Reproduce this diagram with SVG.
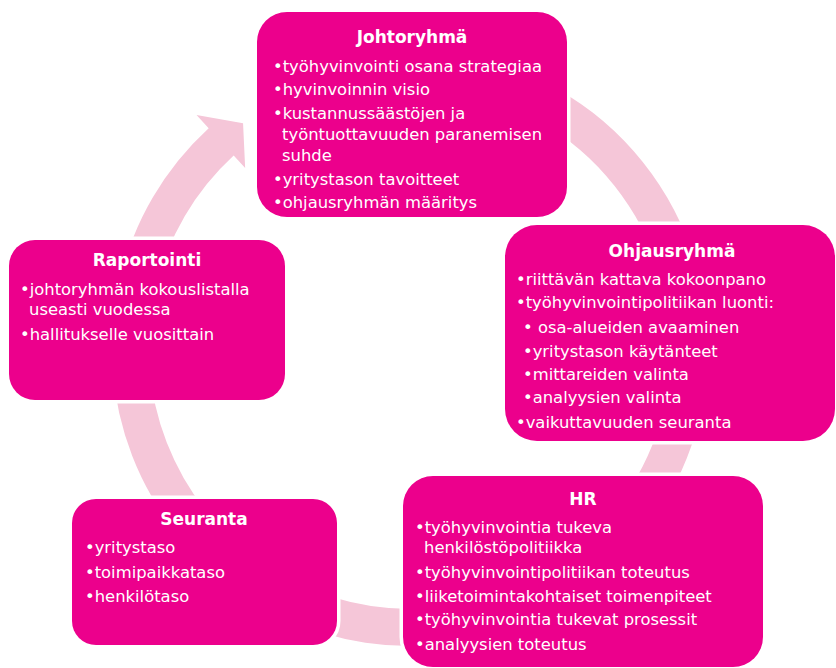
<svg xmlns="http://www.w3.org/2000/svg" width="836" height="668" viewBox="0 0 836 668">
<style>
.box{fill:#EC008C;stroke:#ffffff;stroke-width:7;paint-order:stroke}
.t{font-family:"DejaVu Sans",Verdana,sans-serif;fill:#ffffff;font-weight:bold;font-size:17px;text-anchor:middle}
.b{font-family:"DejaVu Sans",Verdana,sans-serif;fill:#ffffff;font-size:16.4px}
.ring{fill:#F5C6D8}
</style>
<rect width="836" height="668" fill="#ffffff"/>
<g id="connectors">
<path class="ring" d="M435.97,51.14 A298,298 0 0 1 410,646 A298,298 0 0 1 208.67,128.29 L196.51,115.02 L243.06,123.21 L245.16,168.10 L233.67,155.57 A261,261 0 0 0 410,609 A261,261 0 0 0 432.75,87.99 Z"/>
</g>
<g id="johtoryhma">
<rect class="box" x="257" y="12" width="310" height="205" rx="30"/>
<text class="t" x="412" y="43">Johtoryhmä</text>
<text class="b" x="273" y="72">•työhyvinvointi osana strategiaa</text>
<text class="b" x="273" y="95">•hyvinvoinnin visio</text>
<text class="b" x="273" y="119">•kustannussäästöjen ja</text>
<text class="b" x="282" y="140">työntuottavuuden paranemisen</text>
<text class="b" x="282" y="161">suhde</text>
<text class="b" x="273" y="185">•yritystason tavoitteet</text>
<text class="b" x="273" y="208">•ohjausryhmän määritys</text>
</g>
<g id="ohjausryhma">
<rect class="box" x="505" y="225" width="330" height="216" rx="32"/>
<text class="t" x="672" y="257">Ohjausryhmä</text>
<text class="b" x="516" y="285">•riittävän kattava kokoonpano</text>
<text class="b" x="516" y="308">•työhyvinvointipolitiikan luonti:</text>
<text class="b" x="523" y="333">• osa-alueiden avaaminen</text>
<text class="b" x="523" y="357">•yritystason käytänteet</text>
<text class="b" x="523" y="380">•mittareiden valinta</text>
<text class="b" x="523" y="403">•analyysien valinta</text>
<text class="b" x="516" y="428">•vaikuttavuuden seuranta</text>
</g>
<g id="hr">
<rect class="box" x="403" y="476" width="360" height="191" rx="30"/>
<text class="t" x="583" y="505">HR</text>
<text class="b" x="415" y="533">•työhyvinvointia tukeva</text>
<text class="b" x="424" y="553">henkilöstöpolitiikka</text>
<text class="b" x="415" y="578">•työhyvinvointipolitiikan toteutus</text>
<text class="b" x="415" y="602">•liiketoimintakohtaiset toimenpiteet</text>
<text class="b" x="415" y="625">•työhyvinvointia tukevat prosessit</text>
<text class="b" x="415" y="650">•analyysien toteutus</text>
</g>
<g id="seuranta">
<rect class="box" x="72" y="499" width="265" height="146" rx="24"/>
<text class="t" x="204" y="525">Seuranta</text>
<text class="b" x="85" y="553">•yritystaso</text>
<text class="b" x="85" y="578">•toimipaikkataso</text>
<text class="b" x="85" y="602">•henkilötaso</text>
</g>
<g id="raportointi">
<rect class="box" x="9" y="240" width="276" height="160" rx="26"/>
<text class="t" x="147" y="266">Raportointi</text>
<text class="b" x="20" y="295">•johtoryhmän kokouslistalla</text>
<text class="b" x="29" y="315">useasti vuodessa</text>
<text class="b" x="20" y="340">•hallitukselle vuosittain</text>
</g>
</svg>
